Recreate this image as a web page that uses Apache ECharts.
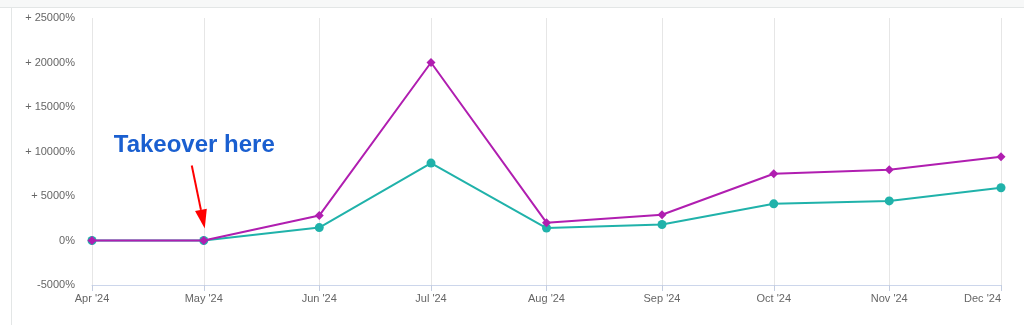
<!DOCTYPE html>
<html>
<head>
<meta charset="utf-8">
<script src="https://cdn.jsdelivr.net/npm/echarts@6/dist/echarts.min.js"></script>
<style>
  body { margin: 0; background: #fff; }
  #band { position: absolute; left: 0; top: 0; width: 1024px; height: 7px; background: #f7f8f8; border-bottom: 1px solid #e3e6e6; }
  #edge { position: absolute; left: 11px; top: 8px; width: 1px; height: 317px; background: #e3e6e6; }
  #chart { position: absolute; left: 0; top: 0; width: 1024px; height: 325px; }
</style>
</head>
<body>
<div id="band"></div>
<div id="edge"></div>
<div id="chart"></div>
<script>
// months shown on the axis (first day of each month)
var months = ['2024-04-01', '2024-05-01', '2024-06-01', '2024-07-01', '2024-08-01', '2024-09-01', '2024-10-01', '2024-11-01', '2024-12-01'];
var monthLabels = ["Apr '24", "May '24", "Jun '24", "Jul '24", "Aug '24", "Sep '24", "Oct '24", "Nov '24", "Dec '24"];
// growth in percent
var magentaValues = [0, 0, 2800, 20000, 2000, 2900, 7500, 7950, 9400];
var tealValues = [0, 0, 1450, 8700, 1400, 1800, 4120, 4450, 5930];
var annotationText = 'Takeover here';
var annotationIndex = 1;

// day offset of each month from the first one
var DAY = 86400000;
var start = Date.parse(months[0]);
var monthDays = months.map(function(m) { return Math.round((Date.parse(m) - start) / DAY); });

function pairs(values) {
    return values.map(function(v, i) { return [monthDays[i], v]; });
}

var chart = echarts.init(document.getElementById('chart'));
var option = {
    animation: false,
    textStyle: { fontFamily: 'Liberation Sans, Arial, sans-serif' },
    grid: { left: 92, right: 23, top: 18, bottom: 40 },
    xAxis: {
        type: 'value',
        min: monthDays[0],
        max: monthDays[monthDays.length - 1],
        axisLine: { onZero: false, lineStyle: { color: '#ccd6eb', width: 1 } },
        axisTick: { show: true, inside: false, length: 6, lineStyle: { color: '#c4cde0', width: 1 }, customValues: monthDays },
        axisLabel: {
            customValues: monthDays,
            color: '#666',
            fontSize: 11,
            margin: 8,
            alignMaxLabel: 'right',
            formatter: function(val) {
                var i = monthDays.indexOf(val);
                return i >= 0 ? monthLabels[i] : '';
            }
        },
        splitLine: { show: true, lineStyle: { color: '#e6e6e6', width: 1 } }
    },
    yAxis: {
        type: 'value',
        min: -5000,
        max: 25000,
        interval: 5000,
        axisLine: { show: false },
        axisTick: { show: false },
        splitLine: { show: false },
        axisLabel: {
            color: '#666',
            fontSize: 11,
            margin: 17,
            formatter: function(v) {
                return v > 0 ? '+ ' + v + '%' : v + '%';
            }
        }
    },
    series: [
        {
            name: 'Teal',
            type: 'line',
            data: pairs(tealValues),
            symbol: 'circle',
            symbolSize: 9,
            lineStyle: { color: '#20b2aa', width: 2 },
            itemStyle: { color: '#20b2aa' },
            z: 2
        },
        {
            name: 'Magenta',
            type: 'line',
            data: pairs(magentaValues),
            symbol: 'diamond',
            symbolSize: 9,
            lineStyle: { color: '#b01eb0', width: 2 },
            itemStyle: { color: '#b01eb0' },
            z: 3
        }
    ]
};
chart.setOption(option);

// annotation placed relative to the May point
var p = chart.convertToPixel({ gridIndex: 0 }, [monthDays[annotationIndex], magentaValues[annotationIndex]]);
var tipX = p[0] + 1, tipY = p[1] - 12;
var tailX = tipX - 13, tailY = tipY - 63;
var ang = Math.atan2(tipY - tailY, tipX - tailX);
var hl = 19, hw = 6;
var bx = tipX - hl * Math.cos(ang), by = tipY - hl * Math.sin(ang);
var nx = -Math.sin(ang) * hw, ny = Math.cos(ang) * hw;
chart.setOption({
    graphic: [
        {
            type: 'text',
            left: p[0] - 90,
            top: p[1] - 107,
            style: { text: annotationText, fill: '#1a5fd0', font: 'bold 24px Liberation Sans, Arial, sans-serif' }
        },
        {
            type: 'line',
            shape: { x1: tailX, y1: tailY, x2: bx, y2: by },
            style: { stroke: '#ff0000', lineWidth: 2 }
        },
        {
            type: 'polygon',
            shape: { points: [[tipX, tipY], [bx + nx, by + ny], [bx - nx, by - ny]] },
            style: { fill: '#ff0000' }
        }
    ]
});
</script>
</body>
</html>
